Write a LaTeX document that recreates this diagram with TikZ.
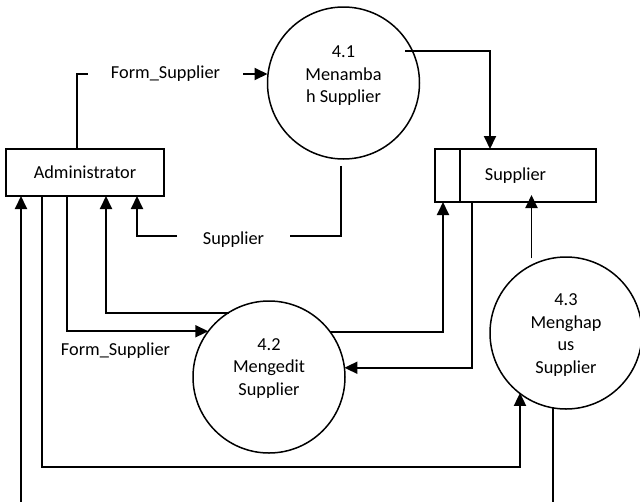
\documentclass[tikz,border=0pt]{standalone}
\usepackage{fontspec}
\setmainfont{Carlito}
\usetikzlibrary{arrows.meta}
\begin{document}
\begin{tikzpicture}[x=1pt,y=-1pt,
  txt/.style={font=\fontsize{18.3}{22.5}\selectfont, inner sep=0pt, outer sep=0pt},
  entity/.style={txt, draw, line width=1.8pt, minimum width=158pt, minimum height=47pt},
  datastore/.style={txt, draw, line width=1.8pt, minimum width=161pt, minimum height=53pt},
  process/.style={draw, circle, line width=1.5pt, minimum size=152pt, inner sep=0pt, outer sep=0pt},
  ptext/.style={txt, align=center},
  flow/.style={line width=1.9pt, -{Triangle[length=13pt,width=12pt]}},
  plain/.style={line width=1.9pt},
  lbl/.style={txt}]
\useasboundingbox (0,0) rectangle (640,501);
\fill[white] (0,0) rectangle (640,501);
\clip (0,0) rectangle (640,501);

% external entity and data store
\node[entity] (admin) at (85,172.5) {Administrator};
\node[datastore] (store) at (515.5,175.5) {Supplier};
\draw[plain] ([xshift=25pt]store.north west) -- ([xshift=25pt]store.south west);

% processes
\node[process] (p41) at (343.5,83) {};
\node[ptext] (p41t) at (343.5,76) {4.1\\Menamba\\h Supplier};
\node[process] (p42) at (269,377) {};
\node[ptext] (p42t) at (269,368.5) {4.2\\Mengedit\\Supplier};
\node[process] (p43) at (566,333) {};
\node[ptext] (p43t) at (566,335) {4.3\\Menghap\\us\\Supplier};

% Administrator -> 4.1
\node[lbl] (fs1) at (165.5,74) {Form\_Supplier};
\coordinate (fs1a) at (88,74);
\coordinate (fs1b) at (243,74);
\draw[plain] ([xshift=-8pt]admin.north) |- (fs1a);
\draw[flow] (fs1b) -- (fs1b -| p41.west);

% 4.1 -> data store
\draw[flow] ([xshift=-7pt]p41.25) -| ([xshift=-25.5pt]store.north);

% 4.1 -> Administrator
\node[lbl] (sl) at (233.5,240) {Supplier};
\coordinate (s1a) at (290,236);
\coordinate (s1b) at (177,236);
\draw[plain] ([yshift=-7pt]p41.268) |- (s1a);
\draw[flow] (s1b) -| ([xshift=52pt]admin.south);

% 4.2 -> Administrator
\draw[flow] (p42.122.6) -| ([xshift=21pt]admin.south);

% Administrator -> 4.2
\draw[flow] ([xshift=-18pt]admin.south) |- (p42.143.6);
\node[lbl] (fs2) at (115.5,351) {Form\_Supplier};

% Administrator -> 4.3
\coordinate (b43) at (520,467);
\draw[flow] ([xshift=-43pt]admin.south) |- (b43) -- (b43 |- p43.232.5);

% 4.3 -> Administrator, running below the lower edge
\coordinate (loop) at (21,512);
\draw[flow] (p43.260) |- (loop) -- ([xshift=-64pt]admin.south);

% 4.2 <-> data store
\draw[flow] (p42.36.4) -| ([xshift=-72.5pt]store.south);
\draw[flow] ([xshift=-43.5pt]store.south) |- (p42.7.6);

% 4.3 -> data store
\draw[flow] ([yshift=7pt]p43.117.4) -- ([yshift=7pt]p43.117.4 |- store.south);
\end{tikzpicture}
\end{document}
